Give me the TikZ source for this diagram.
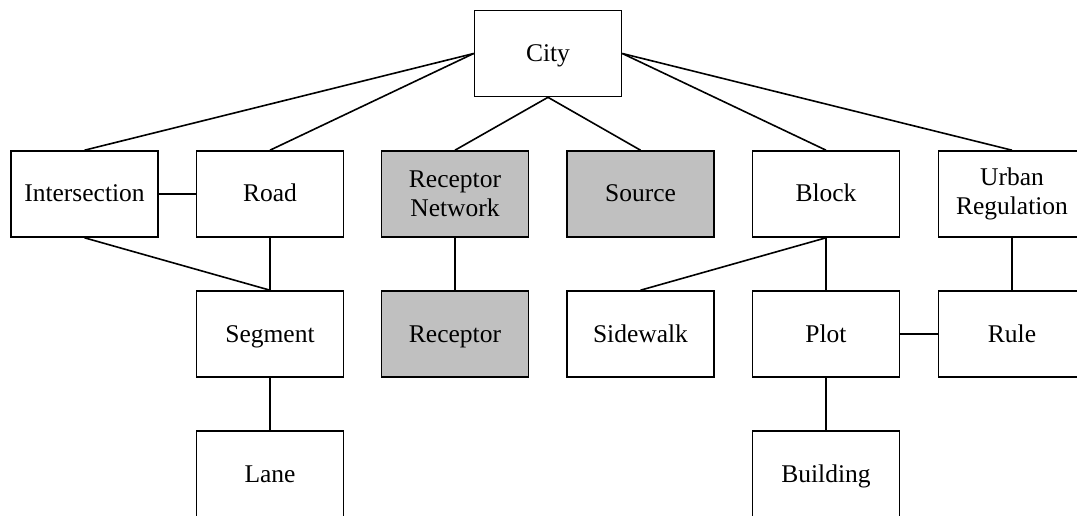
\documentclass[tikz,border=0pt]{standalone}
\usepackage{fontspec}
\setmainfont{Liberation Serif}
\definecolor{boxgray}{RGB}{192,192,192}
\begin{document}
\begin{tikzpicture}[x=1pt,y=-1pt,
  basebox/.style={draw=black, line width=1.6pt, rectangle, minimum width=147pt, minimum height=86pt,
    inner sep=0pt, align=center, font=\fontsize{25.5}{29.5}\selectfont, fill=white},
  box/.style={basebox, text height=22pt, text depth=6pt},
  twobox/.style={basebox},
  grbox/.style={box, fill=boxgray},
  grtwobox/.style={twobox, fill=boxgray},
  link/.style={line width=1.6pt, draw=black}]
\useasboundingbox (0,0) rectangle (1077,516);
\clip (0,0) rectangle (1077,516);
\node[box] (city) at (548,53.5) {City};
\node[box] (inter) at (84.5,194) {Intersection};
\node[box] (road) at (270,194) {Road};
\node[grtwobox] (rnet) at (455,194) {Receptor\\Network};
\node[grbox] (src) at (640.5,194) {Source};
\node[box] (block) at (826,194) {Block};
\node[twobox] (ureg) at (1012,194) {Urban\\Regulation};
\node[box] (seg) at (270,334) {Segment};
\node[grbox] (rec) at (455,334) {Receptor};
\node[box] (side) at (640.5,334) {Sidewalk};
\node[box] (plot) at (826,334) {Plot};
\node[box] (rule) at (1012,334) {Rule};
\node[box] (lane) at (270,474) {Lane};
\node[box] (bldg) at (826,474) {Building};
\draw[link] (city.west) -- (inter.north);
\draw[link] (city.west) -- (road.north);
\draw[link] (city.south) -- (rnet.north);
\draw[link] (city.south) -- (src.north);
\draw[link] (city.east) -- (block.north);
\draw[link] (city.east) -- (ureg.north);
\draw[link] (inter.east) -- (road.west);
\draw[link] (inter.south) -- (seg.north);
\draw[link] (road.south) -- (seg.north);
\draw[link] (rnet.south) -- (rec.north);
\draw[link] (block.south) -- (side.north);
\draw[link] (block.south) -- (plot.north);
\draw[link] (ureg.south) -- (rule.north);
\draw[link] (plot.east) -- (rule.west);
\draw[link] (seg.south) -- (lane.north);
\draw[link] (plot.south) -- (bldg.north);
\end{tikzpicture}
\end{document}
